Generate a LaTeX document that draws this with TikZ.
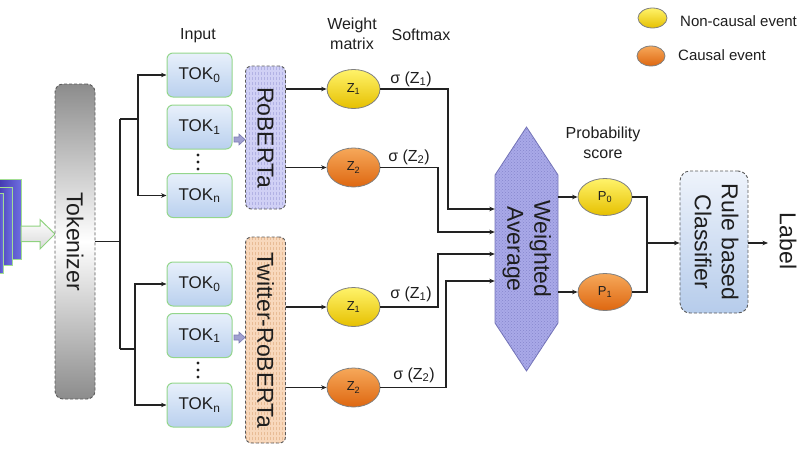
\documentclass[tikz,border=0pt]{standalone}
\usepackage{fontspec}
\usepackage{graphicx}
\setmainfont{Liberation Sans}
\usetikzlibrary{arrows.meta,patterns,shapes.geometric,calc}
\definecolor{txt}{HTML}{1E1E1E}
\definecolor{lncol}{HTML}{222222}
\definecolor{tokA}{HTML}{E8F0FB}
\definecolor{tokB}{HTML}{B9D0EE}
\definecolor{tokborder}{HTML}{94D68C}
\definecolor{yelA}{HTML}{FFF36A}
\definecolor{yelB}{HTML}{E6C000}
\definecolor{orgA}{HTML}{F6A85A}
\definecolor{orgB}{HTML}{DE6710}
\definecolor{ellcol}{HTML}{808080}
\definecolor{waFill}{HTML}{A9A9E8}
\definecolor{waDot}{HTML}{8686CC}
\definecolor{waLine}{HTML}{7474B8}
\definecolor{robFill}{HTML}{D0D0F5}
\definecolor{robStripe}{HTML}{B2B2E4}
\definecolor{twFill}{HTML}{F8D8BC}
\definecolor{twStripe}{HTML}{E8BC96}
\definecolor{clsA}{HTML}{EEF3FB}
\definecolor{clsB}{HTML}{B6CCEB}
\definecolor{dashcol}{HTML}{5A5A5A}
\definecolor{tkA}{HTML}{8C8C8C}
\definecolor{stackA}{HTML}{3A2EA5}
\definecolor{stackB}{HTML}{6E6EE0}
\definecolor{stackLine}{HTML}{A2DE92}
\definecolor{bigArrLine}{HTML}{8FD27F}
\definecolor{blkFill}{HTML}{A0A0D0}
\definecolor{blkLine}{HTML}{7C7CB4}
\begin{document}
\begin{tikzpicture}[x=1pt,y=-1pt,
  every node/.style={text=txt, inner sep=0pt},
  ln/.style={draw=lncol, line width=1.1pt},
  arr/.style={ln, -{Stealth[length=5.5pt,width=4.5pt]}},
  small/.style={font=\fontsize{16}{20}\selectfont, align=center},
  big/.style={font=\fontsize{23}{28}\selectfont},
  tokbox/.style={draw=tokborder, line width=1pt, rounded corners=6pt,
    top color=tokA, bottom color=tokB, minimum width=65pt, minimum height=44pt,
    font=\fontsize{17}{20}\selectfont},
  yel/.style={ellipse, draw=ellcol, line width=0.8pt, top color=yelA, bottom color=yelB,
    minimum width=53pt, minimum height=39pt, font=\fontsize{13}{15}\selectfont},
  org/.style={yel, top color=orgA, bottom color=orgB},
  dashbox/.style={draw=dashcol, line width=0.9pt, dash pattern=on 3pt off 2pt},
  robbox/.style={dashbox, rounded corners=6pt, preaction={fill=robFill},
    pattern=vertical lines, pattern color=robStripe, minimum width=40pt, big},
  twbox/.style={robbox, preaction={fill=twFill}, pattern color=twStripe},
  blk/.style={fill=blkFill, draw=blkLine, line width=0.6pt},
]
\useasboundingbox (0,0) rectangle (808,455);

% legend
\node[yel, minimum width=29pt, minimum height=20pt] (lgy) at (652.5,18) {};
\node[org, minimum width=28pt, minimum height=20pt] (lgo) at (651,56) {};
\node[font=\fontsize{15}{18}\selectfont, anchor=west] (lgyt) at (680,21) {Non-causal event};
\node[font=\fontsize{15}{18}\selectfont, anchor=west] (lgot) at (678,55) {Causal event};

% input stack
\foreach \xr/\yt/\yb in {21/179/259, 12/187/265, 3/193/273}
  \draw[draw=stackLine, line width=1pt, left color=stackA, right color=stackB] (-6,\yt) rectangle (\xr,\yb);
\draw[draw=bigArrLine, line width=1pt, top color=white, bottom color=black!15]
  (21,226) -- (40,226) -- (40,219.5) -- (55,234) -- (40,249) -- (40,241.5) -- (21,241.5) -- cycle;

% tokenizer
\node[dashbox, rounded corners=8pt, minimum width=40pt, minimum height=315pt,
  top color=tkA, bottom color=tkA, middle color=white, big] (tokz) at (75,241.5)
  {\rotatebox{-90}{Tokenizer}};

% tokens
\node[tokbox] (ta0) at (199.5,75) {TOK\textsubscript{0}};
\node[tokbox] (ta1) at (199.5,127) {TOK\textsubscript{1}};
\node[tokbox] (tan) at (199.5,195.5) {TOK\textsubscript{n}};
\node[tokbox] (tb0) at (199.5,284) {TOK\textsubscript{0}};
\node[tokbox] (tb1) at (199.5,335.5) {TOK\textsubscript{1}};
\node[tokbox] (tbn) at (199.5,405) {TOK\textsubscript{n}};
\foreach \yy in {155,162,169,363,370,377} \fill[txt] (198,\yy) circle (1.6pt);

% tokenizer connectors
\coordinate (j0) at (120,241.5);
\coordinate (ja) at (120,119);
\coordinate (jb) at (120,349);
\coordinate (ka) at (138,119);
\coordinate (kb) at (135,349);
\draw[ln] (tokz.east) -- (j0);
\draw[ln] (ja) -- (jb);
\draw[ln] (ja) -- (ka);
\draw[ln] (jb) -- (kb);
\draw[arr] (ka) |- (ta0.west);
\draw[arr] (ka) |- (tan.west);
\draw[arr] (kb) |- (tb0.west);
\draw[arr] (kb) |- (tbn.west);

% encoders
\node[robbox, minimum height=143pt] (rob) at (265.5,137.5) {\rotatebox{-90}{RoBERTa}};
\node[twbox, minimum height=206pt] (tw) at (265.5,340) {\rotatebox{-90}{Twitter-RoBERTa}};
\draw[blk] (234,137) -- (239,137) -- (239,134) -- (245,139.5) -- (239,145) -- (239,142) -- (234,142) -- cycle;
\draw[blk] (234,335) -- (239,335) -- (239,332) -- (245,337.5) -- (239,343) -- (239,340) -- (234,340) -- cycle;

% weight matrix outputs
\node[yel] (z11) at (353.5,89) {Z\textsubscript{1}};
\node[org] (z12) at (353.5,167.5) {Z\textsubscript{2}};
\node[yel] (z21) at (353.5,307) {Z\textsubscript{1}};
\node[org] (z22) at (353.5,387.5) {Z\textsubscript{2}};
\draw[arr] (rob.east |- z11) -- (z11.west);
\draw[arr] (rob.east |- z12) -- (z12.west);
\draw[arr] (tw.east |- z21) -- (z21.west);
\draw[arr] (tw.east |- z22) -- (z22.west);

% softmax labels
\node[small] (s11) at (411,79) {σ (Z\textsubscript{1})};
\node[small] (s12) at (409,157) {σ (Z\textsubscript{2})};
\node[small] (s21) at (411,294) {σ (Z\textsubscript{1})};
\node[small] (s22) at (414,375) {σ (Z\textsubscript{2})};

% weighted average
\filldraw[draw=waLine, line width=0.8pt, preaction={fill=waFill}, pattern=crosshatch dots, pattern color=waDot]
  (495,175) -- (526.5,127) -- (558,175) -- (558,323) -- (526.5,371) -- (495,323) -- cycle;
\node[minimum width=63pt, minimum height=148pt, big] (wa) at (526.5,249)
  {\rotatebox{-90}{\begin{tabular}{@{}c@{}}Weighted\\[-1pt]Average\end{tabular}}};

\coordinate (b1) at (448,209);
\coordinate (b2) at (438,232);
\coordinate (b3) at (438,254);
\coordinate (b4) at (446,281);
\draw[arr] (z11.east) -| (b1) -- (b1 -| wa.west);
\draw[arr] (z12.east) -| (b2) -- (b2 -| wa.west);
\draw[arr] (z21.east) -| (b3) -- (b3 -| wa.west);
\draw[arr] (z22.east) -| (b4) -- (b4 -| wa.west);

% probability scores
\node[yel, minimum width=54pt, minimum height=37pt] (p0) at (605,197) {P\textsubscript{0}};
\node[org, minimum width=54pt, minimum height=37pt] (p1) at (605,292) {P\textsubscript{1}};
\draw[arr] (wa.east |- p0) -- (p0.west);
\draw[arr] (wa.east |- p1) -- (p1.west);

% classifier
\node[dashbox, rounded corners=10pt, minimum width=68pt, minimum height=142pt,
  top color=clsA, bottom color=clsB, big] (cls) at (714,242)
  {\rotatebox{-90}{\begin{tabular}{@{}c@{}}Rule based\\[-1pt]Classifier\end{tabular}}};
\coordinate (m) at (647,243);
\draw[ln] (p0.east) -| (m);
\draw[ln] (p1.east) -| (m);
\draw[arr] (m) -- (m -| cls.west);
\node[big] (lbl) at (788,241) {\rotatebox{-90}{Label}};
\coordinate (le) at (768,243);
\draw[arr] (cls.east |- le) -- (le);

% top labels
\node[small] (inp) at (198,36) {Input};
\node[small] (wm) at (352,34) {Weight\\matrix};
\node[small] (sm) at (421,35) {Softmax};
\node[small] (ps) at (603,143) {Probability\\score};
\end{tikzpicture}
\end{document}
